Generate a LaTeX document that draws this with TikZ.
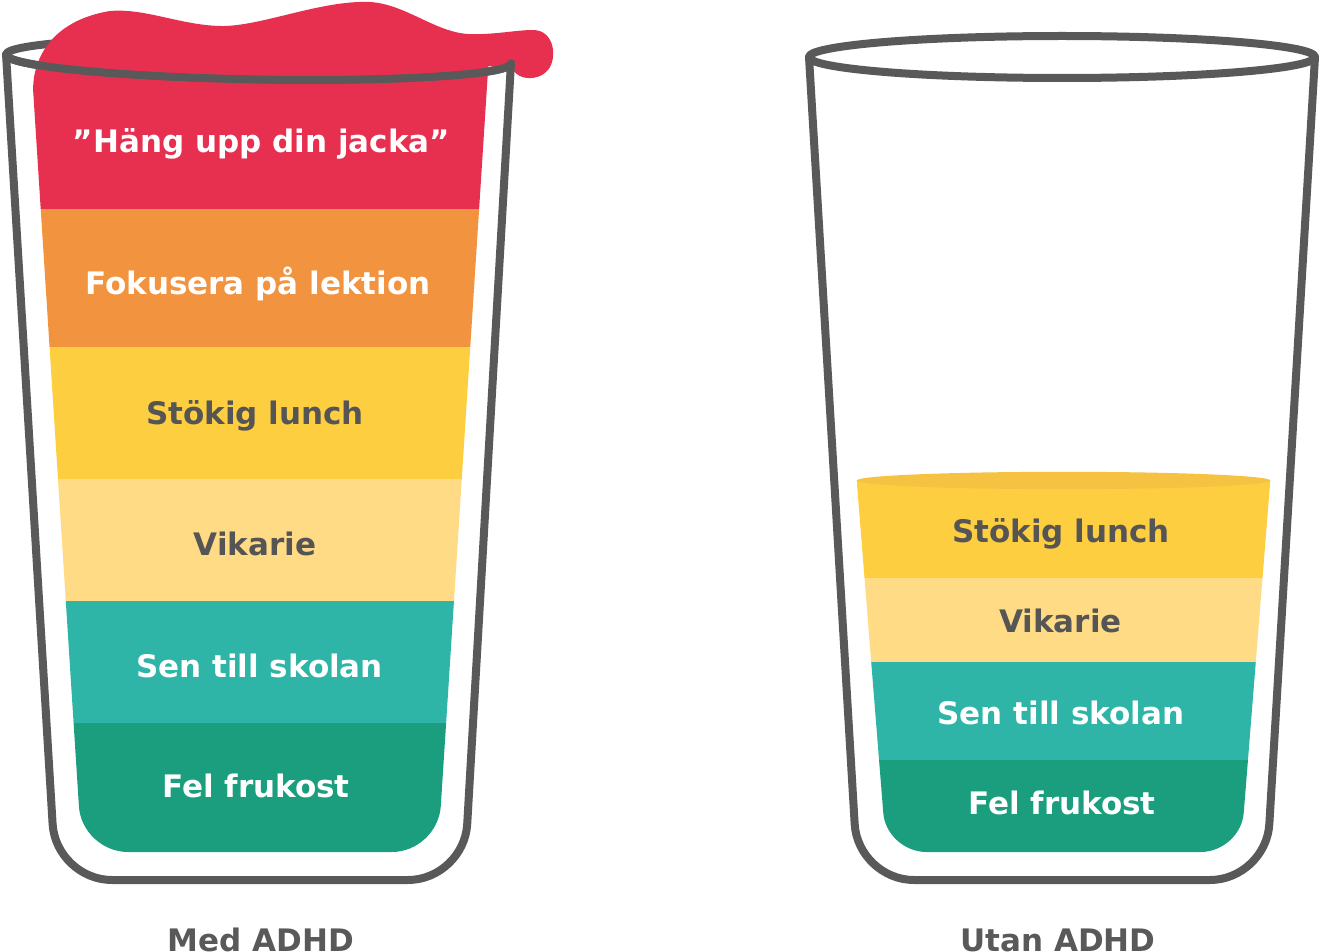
\documentclass[tikz,border=0pt]{standalone}
\usepackage{fontspec}
\setmainfont{DejaVu Sans}
\definecolor{glassgray}{HTML}{595959}
\definecolor{textgray}{HTML}{555555}
\definecolor{cred}{HTML}{E7304F}
\definecolor{corange}{HTML}{F29340}
\definecolor{cyellow}{HTML}{FECE41}
\definecolor{cyellowtop}{HTML}{F5C242}
\definecolor{clight}{HTML}{FFDB86}
\definecolor{cteal}{HTML}{2EB5A7}
\definecolor{cgreen}{HTML}{1A9E7D}
\begin{document}
\begin{tikzpicture}[x=1pt,y=-1pt,
  glass/.style={draw=glassgray, line width=8pt, line join=round, line cap=round},
  lbl/.style={font=\fontsize{31}{37}\selectfont\bfseries, anchor=base, inner sep=0pt},
  lblw/.style={lbl, text=white},
  lbld/.style={lbl, text=textgray},
  caption/.style={lbl, text=glassgray}]
\useasboundingbox (0,0) rectangle (1320,952);

% ---------- left glass: back of rim ----------
\begin{scope}[shift={(258.5,59)}, rotate=-1]
  \draw[glass] (0,0) ellipse[x radius=252.5, y radius=20.5];
\end{scope}

% ---------- left glass: liquid ----------
\begin{scope}
  \path[clip] (33.1,90) .. controls (33,55) and (55,20) .. (110,11)
    .. controls (145,8) and (180,25) .. (220,26)
    .. controls (260,27) and (320,0) .. (370,2)
    .. controls (405,4) and (435,32) .. (468,34)
    .. controls (495,35) and (515,30) .. (533,30)
    .. controls (556,30) and (558,62) .. (546,72)
    .. controls (538,80) and (520,81) .. (513,70)
    -- (488.3,66) -- (440.8,806)
    .. controls (439.2,831.4) and (417.3,852) .. (391.9,852)
    -- (128,852) .. controls (102.6,852) and (80.3,831.4) .. (78.9,806) -- cycle;
  \fill[cred]    (0,-10) rectangle (600,209);
  \fill[corange] (0,209) rectangle (600,347);
  \fill[cyellow] (0,347) rectangle (600,479);
  \fill[clight]  (0,479) rectangle (600,601);
  \fill[cteal]   (0,601) rectangle (600,723);
  \fill[cgreen]  (0,723) rectangle (600,900);
\end{scope}

% ---------- left glass: walls and front of rim ----------
\draw[glass, rounded corners=56pt] (6.05,54.6) -- (56,880) -- (464,880) -- (510.96,63.4);
\begin{scope}[shift={(258.5,59)}, rotate=-1]
  \draw[glass] (-252.5,0) .. controls (-252.5,11.3) and (-139.4,20.5) .. (0,20.5)
    .. controls (139.4,20.5) and (252.5,11.3) .. (252.5,0);
\end{scope}

% ---------- left glass: labels ----------
\node[lblw] (l1) at (261.5,153) {”Häng upp din jacka”};
\node[lblw] (l2) at (258,294) {Fokusera på lektion};
\node[lbld] (l3) at (255,424) {Stökig lunch};
\node[lbld] (l4) at (255,555) {Vikarie};
\node[lblw] (l5) at (259.5,677) {Sen till skolan};
\node[lblw] (l6) at (256,797) {Fel frukost};

% ---------- right glass: liquid ----------
\begin{scope}
  \path[clip] (856.7,480.5) -- (1270.3,480.5) -- (1243.8,812)
    .. controls (1242.6,834) and (1222.7,852) .. (1200.6,852)
    -- (926.4,852) .. controls (904.3,852) and (884.4,834) .. (883.2,812) -- cycle;
  \fill[cyellow] (800,470) rectangle (1320,578);
  \fill[clight]  (800,578) rectangle (1320,662);
  \fill[cteal]   (800,662) rectangle (1320,760);
  \fill[cgreen]  (800,760) rectangle (1320,900);
\end{scope}
\fill[cyellowtop] (1063.5,480.5) ellipse[x radius=206.8, y radius=8.7];

% ---------- right glass: outline ----------
\draw[glass] (1062,57) ellipse[x radius=253, y radius=21];
\draw[glass, rounded corners=56pt] (809,57) -- (858,880) -- (1266,880) -- (1315,57);

% ---------- right glass: labels ----------
\node[lbld] (r1) at (1061,542) {Stökig lunch};
\node[lbld] (r2) at (1060.5,632) {Vikarie};
\node[lblw] (r3) at (1061,724) {Sen till skolan};
\node[lblw] (r4) at (1062,814) {Fel frukost};

% ---------- captions ----------
\node[caption] (c1) at (261,951) {Med ADHD};
\node[caption] (c2) at (1058,951) {Utan ADHD};
\end{tikzpicture}
\end{document}
